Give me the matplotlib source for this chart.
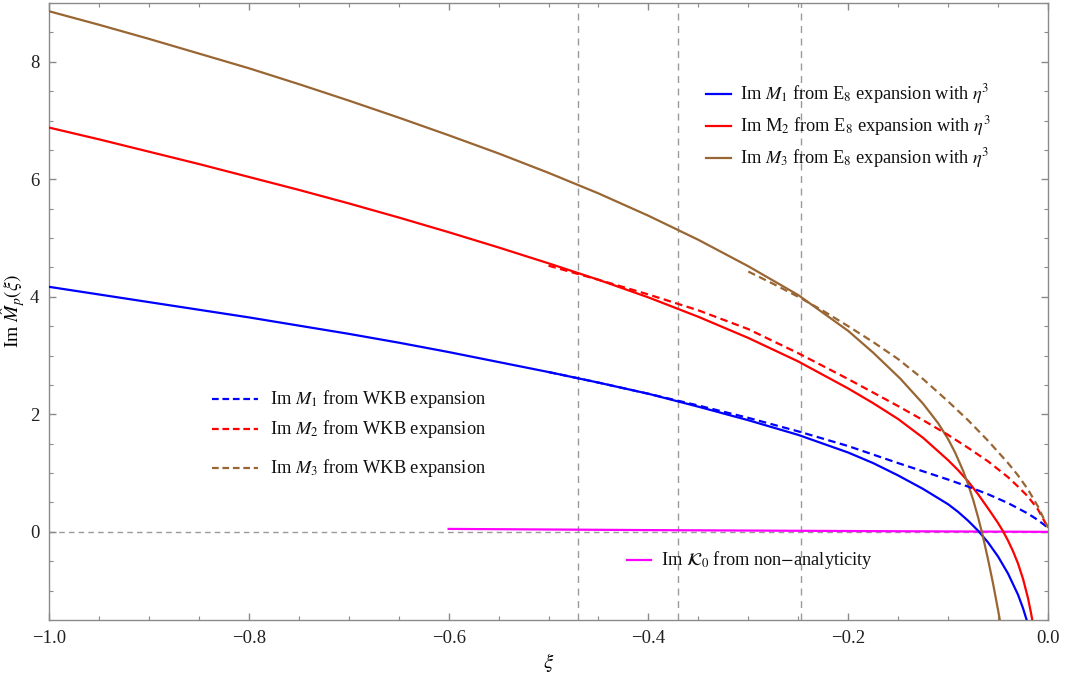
import matplotlib
matplotlib.use("Agg")
import matplotlib.pyplot as plt
from matplotlib.lines import Line2D

plt.rcParams["font.family"] = ["Liberation Serif", "DejaVu Serif"]
plt.rcParams["mathtext.fontset"] = "stix"

# --- Im M_p from the E8 expansion with eta^3 (solid curves) ---
xi_e8_m1 = [-1.0, -0.95, -0.9, -0.85, -0.8, -0.75, -0.7, -0.65, -0.6, -0.55,
            -0.5, -0.45, -0.4, -0.35, -0.3, -0.25, -0.2, -0.175, -0.15, -0.125,
            -0.1, -0.09, -0.08, -0.07, -0.06, -0.05, -0.04, -0.03,
            -0.025, -0.021]
im_e8_m1 = [4.17, 4.04, 3.91, 3.78, 3.65, 3.51, 3.37, 3.22, 3.06, 2.89,
            2.72, 2.54, 2.35, 2.13, 1.90, 1.65, 1.35, 1.17, 0.96, 0.73,
            0.47, 0.34, 0.19, 0.02, -0.18, -0.42, -0.71, -1.07,
            -1.30, -1.52]

xi_e8_m2 = [-1.0, -0.95, -0.9, -0.85, -0.8, -0.75, -0.7, -0.65, -0.6, -0.55,
            -0.5, -0.45, -0.4, -0.35, -0.3, -0.25, -0.2, -0.175, -0.15, -0.125,
            -0.1, -0.09, -0.08, -0.07, -0.06, -0.05, -0.045, -0.04, -0.035,
            -0.03, -0.025, -0.02, -0.017, -0.015]
im_e8_m2 = [6.88, 6.68, 6.47, 6.26, 6.04, 5.82, 5.59, 5.35, 5.10, 4.84,
            4.57, 4.29, 3.99, 3.66, 3.30, 2.90, 2.44, 2.19, 1.92, 1.60,
            1.22, 1.05, 0.86, 0.64, 0.40, 0.15, 0.01, -0.15, -0.33,
            -0.54, -0.80, -1.13, -1.38, -1.57]

xi_e8_m3 = [-1.0, -0.95, -0.9, -0.85, -0.8, -0.75, -0.7, -0.65, -0.6, -0.55,
            -0.5, -0.45, -0.4, -0.35, -0.3, -0.25, -0.2, -0.175, -0.148, -0.125,
            -0.11, -0.1, -0.093, -0.085, -0.08, -0.075, -0.07, -0.067, -0.065,
            -0.06, -0.055, -0.05, -0.048]
im_e8_m3 = [8.86, 8.63, 8.39, 8.14, 7.89, 7.62, 7.34, 7.05, 6.75, 6.44,
            6.11, 5.76, 5.38, 4.97, 4.52, 4.03, 3.42, 3.05, 2.61, 2.18,
            1.85, 1.58, 1.35, 1.04, 0.81, 0.55, 0.25, 0.05, -0.09,
            -0.47, -0.88, -1.33, -1.52]

# --- Im M_p from the WKB expansion (dashed curves) ---
xi_wkb_m1 = [-0.5, -0.45, -0.4, -0.35, -0.3, -0.25, -0.2, -0.15, -0.125,
             -0.1, -0.08, -0.06, -0.04, -0.03, -0.02, -0.01, 0.0]
im_wkb_m1 = [2.72, 2.54, 2.35, 2.15, 1.94, 1.71, 1.46, 1.17, 1.03,
             0.89, 0.77, 0.64, 0.49, 0.40, 0.31, 0.20, 0.07]

xi_wkb_m2 = [-0.5, -0.45, -0.4, -0.35, -0.3, -0.25, -0.2, -0.15, -0.125,
             -0.1, -0.08, -0.06, -0.04, -0.03, -0.02, -0.01, 0.0]
im_wkb_m2 = [4.53, 4.29, 4.04, 3.77, 3.45, 3.04, 2.60, 2.14, 1.90,
             1.65, 1.43, 1.20, 0.93, 0.77, 0.60, 0.38, 0.07]

xi_wkb_m3 = [-0.3, -0.275, -0.25, -0.225, -0.2, -0.175, -0.15, -0.125, -0.1,
             -0.08, -0.06, -0.04, -0.03, -0.02, -0.01, 0.0]
im_wkb_m3 = [4.43, 4.22, 4.00, 3.76, 3.50, 3.23, 2.94, 2.60, 2.22,
             1.90, 1.55, 1.17, 0.96, 0.72, 0.43, 0.07]

# --- Im K_0 from non-analyticity ---
xi_k0 = [-0.6, -0.5, -0.4, -0.3, -0.2, -0.1, 0.0]
im_k0 = [0.05, 0.04, 0.03, 0.022, 0.014, 0.007, 0.0]

# positions of the vertical guide lines
xi_guides = [-0.47, -0.37, -0.247]

x_ticks = [-1.0, -0.8, -0.6, -0.4, -0.2, 0.0]
x_tick_labels = ["\u22121.0", "\u22120.8", "\u22120.6", "\u22120.4", "\u22120.2", "0.0"]
y_ticks = [0, 2, 4, 6, 8]

BLUE = "#0000ff"
RED = "#ff0000"
BROWN = "#996633"
MAGENTA = "#ff00ff"
FRAME = "#8a8a8a"

fig = plt.figure(figsize=(10.65, 6.79), dpi=100)
ax = fig.add_axes([49 / 1065, 1 - 620 / 679, (1048 - 49) / 1065, (620 - 3) / 679])

ax.set_xlim(-1.0, 0.0)
ax.set_ylim(-1.5, 9.0)

lw = 1.6
dash = (3.4, 2.0)

# guide lines
ax.axhline(0.0, color="#9a9a9a", lw=1.0, ls=(0, (4, 3)), zorder=1)
for g in xi_guides:
    ax.axvline(g, color="#9a9a9a", lw=1.0, ls=(0, (5, 4)), zorder=1)

ax.plot(xi_k0, im_k0, color=MAGENTA, lw=lw, zorder=2)

ax.plot(xi_e8_m1, im_e8_m1, color=BLUE, lw=lw, zorder=3)
ax.plot(xi_e8_m2, im_e8_m2, color=RED, lw=lw, zorder=3)
ax.plot(xi_e8_m3, im_e8_m3, color=BROWN, lw=lw, zorder=3)

ax.plot(xi_wkb_m1, im_wkb_m1, color=BLUE, lw=lw, ls=(0, dash), zorder=3)
ax.plot(xi_wkb_m2, im_wkb_m2, color=RED, lw=lw, ls=(0, dash), zorder=3)
ax.plot(xi_wkb_m3, im_wkb_m3, color=BROWN, lw=lw, ls=(0, dash), zorder=3)

# frame and ticks
for s in ax.spines.values():
    s.set_color(FRAME)
    s.set_linewidth(1.0)
ax.set_xticks(x_ticks)
ax.set_xticklabels(x_tick_labels)
ax.set_yticks(y_ticks)
ax.set_yticklabels([str(v) for v in y_ticks])
ax.set_xticks([-1 + 0.05 * i for i in range(21)], minor=True)
ax.set_yticks([-1.5 + 0.5 * i for i in range(22)], minor=True)
ax.tick_params(which="both", direction="in", top=True, right=True, color=FRAME,
               labelsize=13.5, labelcolor="#222222")
ax.tick_params(which="major", length=5, width=1.0, pad=7)
ax.tick_params(which="minor", length=3, width=0.8)

ax.set_xlabel(r"$\xi$", fontsize=15, labelpad=3)
ax.set_ylabel(r"Im $\hat{M}_p(\xi)$", fontsize=14, labelpad=2)

# legend entries
def px2ax(px, py):
    return ((px - 49) / 999, (620 - py) / 617)

def entry(x0, x1, xt, y, color, label, dashed=False):
    a0 = px2ax(x0, y)
    a1 = px2ax(x1, y)
    at = px2ax(xt, y)
    ls = (0, (3.0, 1.7)) if dashed else "-"
    ax.add_line(Line2D([a0[0], a1[0]], [a0[1], a1[1]], transform=ax.transAxes,
                       color=color, lw=lw, ls=ls, zorder=4))
    ax.text(at[0], at[1], label, transform=ax.transAxes, fontsize=13.2,
            va="center", ha="left", color="#111111", zorder=4)

entry(706, 731, 740, 94, BLUE, r"Im $M_1$ from E$_8$ expansion with $\eta^3$")
entry(706, 731, 740, 126, RED, r"Im M$_2$ from E$_8$ expansion with $\eta^3$")
entry(706, 731, 740, 158, BROWN, r"Im $M_3$ from E$_8$ expansion with $\eta^3$")

entry(212, 258, 270, 399, BLUE, r"Im $M_1$ from WKB expansion", dashed=True)
entry(212, 258, 270, 429, RED, r"Im $M_2$ from WKB expansion", dashed=True)
entry(212, 258, 270, 468, BROWN, r"Im $M_3$ from WKB expansion", dashed=True)

entry(627, 651, 661, 560, MAGENTA, r"Im $\mathcal{K}_0$ from non$-$analyticity")

fig.savefig("out.png", dpi=100)
